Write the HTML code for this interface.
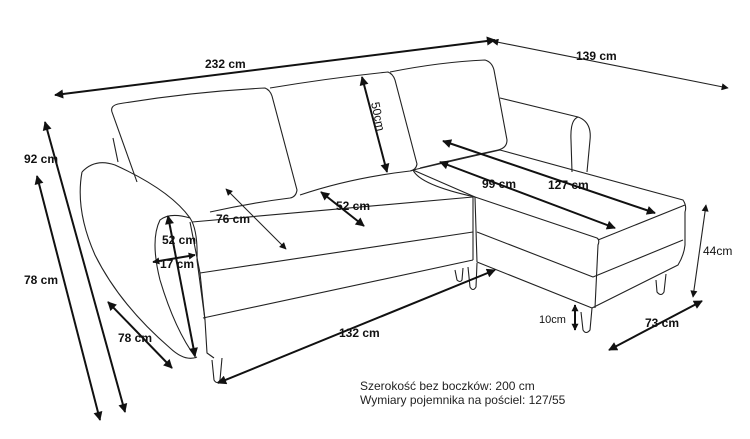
<!DOCTYPE html>
<html><head><style>
html,body{margin:0;padding:0;background:#fff;}
svg{display:block;font-family:"Liberation Sans",sans-serif;}
.l{fill:none;stroke:#222;stroke-width:1.1;stroke-linejoin:round;}
.d{fill:none;stroke:#111;stroke-width:2;}
.t{font-size:12px;font-weight:bold;fill:#111;}
</style></head><body>
<svg width="750" height="439" viewBox="0 0 750 439" xmlns="http://www.w3.org/2000/svg">
<defs>
<marker id="a" viewBox="0 0 10 10" refX="9" refY="5" markerWidth="11" markerHeight="9" markerUnits="userSpaceOnUse" orient="auto-start-reverse"><path d="M0,0 L10,5 L0,10 z" fill="#111"/></marker>
<marker id="s" viewBox="0 0 10 10" refX="9" refY="5" markerWidth="8" markerHeight="7" markerUnits="userSpaceOnUse" orient="auto-start-reverse"><path d="M0,0 L10,5 L0,10 z" fill="#111"/></marker>
</defs>
<!-- back cushions -->
<path class="l" d="M112,112 Q110,106 118,104 Q190,92 265,88 Q270,90 272,96 L297,190 Q296,197 290,198 Q250,203 210,212 M112,112 L137,182"/>
<path class="l" d="M113,138 L118,162"/>
<path class="l" d="M270,88 Q330,78 388,72 Q393,74 395,80 L417,164 Q416,170 410,171 Q350,178 300,195"/>
<path class="l" d="M390,72 Q440,62 485,60 Q492,62 494,70 L507,140 Q507,148 498,150 Q460,158 420,168"/>
<!-- chaise arm -->
<path class="l" d="M500,98 L578,117 Q592,122 590,140 L587,172"/>
<path class="l" d="M578,117 Q570,120 571,140 L572,172"/>
<!-- chaise seat -->
<path class="l" d="M413,170 L500,150 L683,200 Q687,206 685,212 L685,245 Q684,255 678,265 L592,308 L477,262 L475,197 Z"/>
<path class="l" d="M413,170 Q420,185 475,197 L597,238 Q600,240 598,245 L595,308"/>
<path class="l" d="M598,240 L685,205 M477,232 L593,277 L683,240"/>
<path class="l" d="M473,197 L473,260"/>
<!-- main seat -->
<path class="l" d="M192,222 L473,197 M200,273 L473,232 M203,318 L473,260 M205,320 L207,353 L214,358"/>
<path class="l" d="M190,222 L200,273 L205,320"/>
<!-- left arm -->
<path class="l" d="M82,172 Q95,158 115,165 Q170,190 190,218 Q198,230 197,260"/>
<path class="l" d="M82,172 Q75,210 95,255 Q120,305 170,348 Q185,362 197,357"/>
<path class="l" d="M190,218 Q170,212 160,220 Q150,240 160,280 Q175,330 196,358"/>
<path class="l" d="M197,260 L205,320"/>
<!-- legs -->
<path class="l" d="M212,360 L214,380 Q217,385 220,380 L222,358"/>
<path class="l" d="M455,270 L457,280 Q460,283 462,280 L463,268 M468,267 L470,287 Q473,292 476,287 L477,263"/>
<path class="l" d="M581,312 L583,330 Q586,335 590,330 L592,308"/>
<path class="l" d="M656,280 L657,292 Q661,297 664,292 L666,274"/>
<!-- dimension lines -->
<line class="d" x1="55" y1="95" x2="495" y2="40" marker-start="url(#a)" marker-end="url(#a)"/>
<line class="l" x1="492" y1="41" x2="728" y2="88" marker-start="url(#s)" marker-end="url(#s)"/>
<line class="d" x1="45" y1="122" x2="125" y2="412" marker-start="url(#a)" marker-end="url(#a)"/>
<line class="d" x1="37" y1="176" x2="100" y2="420" marker-start="url(#a)" marker-end="url(#a)"/>
<line class="d" x1="108" y1="302" x2="172" y2="368" marker-start="url(#a)" marker-end="url(#a)"/>
<line class="d" x1="218" y1="383" x2="495" y2="270" marker-start="url(#a)" marker-end="url(#a)"/>
<line class="l" x1="226" y1="189" x2="286" y2="249" marker-start="url(#s)" marker-end="url(#s)"/>
<line class="d" x1="321" y1="192" x2="364" y2="226" marker-start="url(#a)" marker-end="url(#a)"/>
<line class="d" x1="362" y1="77" x2="387" y2="172" marker-start="url(#a)" marker-end="url(#a)"/>
<line class="d" x1="168" y1="216" x2="195" y2="356" marker-start="url(#a)" marker-end="url(#a)"/>
<line class="d" x1="153" y1="262" x2="195" y2="255" marker-start="url(#s)" marker-end="url(#s)"/>
<line class="d" x1="440" y1="162" x2="615" y2="228" marker-start="url(#a)" marker-end="url(#a)"/>
<line class="d" x1="443" y1="141" x2="655" y2="213" marker-start="url(#a)" marker-end="url(#a)"/>
<line class="l" x1="706" y1="205" x2="693" y2="297" marker-start="url(#s)" marker-end="url(#s)"/>
<line class="d" x1="609" y1="350" x2="702" y2="301" marker-start="url(#a)" marker-end="url(#a)"/>
<line class="d" x1="575" y1="305" x2="575" y2="330" marker-start="url(#s)" marker-end="url(#s)"/>
<!-- labels -->
<text class="t" x="205" y="68">232 cm</text>
<text class="t" x="576" y="60">139 cm</text>
<text class="t" x="24" y="163">92 cm</text>
<text class="t" x="24" y="284">78 cm</text>
<text class="t" x="118" y="342">78 cm</text>
<text class="t" x="339" y="337">132 cm</text>
<text class="t" x="216" y="223">76 cm</text>
<text class="t" x="336" y="210">52 cm</text>
<text x="371" y="103" font-size="12" fill="#111" transform="rotate(78 371 103)">50cm</text>
<text class="t" x="162" y="244">52 cm</text>
<text class="t" x="160" y="268">17 cm</text>
<text class="t" x="482" y="188">99 cm</text>
<text class="t" x="548" y="189">127 cm</text>
<text x="703" y="255" font-size="12" fill="#111">44cm</text>
<text class="t" x="645" y="327">73 cm</text>
<text x="539" y="323" font-size="11" fill="#111">10cm</text>
<text x="360" y="390" font-size="12" fill="#222">Szerokość bez boczków: 200 cm</text>
<text x="360" y="404" font-size="12" fill="#222">Wymiary pojemnika na pościel: 127/55</text>
</svg>
</body></html>
